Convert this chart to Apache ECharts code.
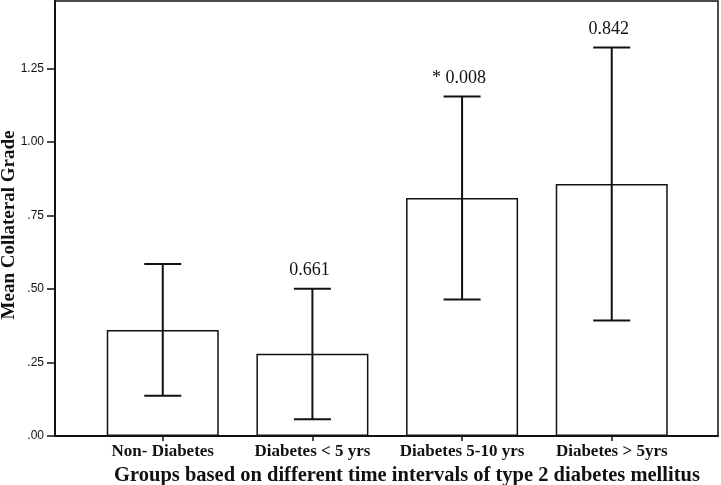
<!DOCTYPE html>
<html>
<head>
<meta charset="utf-8">
<script src="https://cdn.jsdelivr.net/npm/echarts@6/dist/echarts.min.js"></script>
<style>
html,body{margin:0;padding:0;background:#fff;}
#chart{width:721px;height:485px;}
</style>
</head>
<body>
<div id="chart"></div>
<script>
const categories = ['Non- Diabetes', 'Diabetes < 5 yrs', 'Diabetes 5-10 yrs', 'Diabetes > 5yrs'];
const means = [0.361, 0.280, 0.810, 0.857];
const ciLow = [0.137, 0.057, 0.464, 0.393];
const ciHigh = [0.585, 0.501, 1.155, 1.322];
const pLabels = ['', '0.661', '* 0.008', '0.842'];
const yTicks = [0, 0.25, 0.5, 0.75, 1.0, 1.25];
const yLabels = ['.00', '.25', '.50', '.75', '1.00', '1.25'];
const xTitle = 'Groups based on different time intervals of type 2 diabetes mellitus';
const yTitle = 'Mean Collateral Grade';

const INK = '#111';
const catIdx = categories.map((c, i) => i);

const chart = echarts.init(document.getElementById('chart'));
chart.setOption({
  animation: false,
  backgroundColor: '#fff',
  grid: {left: 55, right: 3, top: 1, bottom: 49, containLabel: false, outerBoundsMode: 'none',
         show: true, borderColor: INK, borderWidth: 1.5, backgroundColor: '#fff'},
  graphic: [{
    type: 'text', x: 407, y: 476,
    style: {text: xTitle, font: 'bold 20.5px "Liberation Serif"', fill: INK, align: 'center', verticalAlign: 'middle'}
  }, {
    type: 'text', x: 9, y: 225, rotation: Math.PI / 2,
    style: {text: yTitle, font: 'bold 19px "Liberation Serif"', fill: INK, align: 'center', verticalAlign: 'middle'}
  }],
  xAxis: {
    type: 'value',
    min: -0.72, max: categories.length - 1 + 0.71,
    splitLine: {show: false},
    axisLine: {show: true, onZero: false, lineStyle: {color: INK, width: 2}},
    axisTick: {show: true, length: 5, customValues: catIdx, lineStyle: {color: INK, width: 1.5}},
    axisLabel: {
      customValues: catIdx, margin: 7,
      formatter: v => categories[Math.round(v)] || '',
      color: INK, fontFamily: 'Liberation Serif', fontWeight: 'bold', fontSize: 17
    }
  },
  yAxis: {
    type: 'value', min: 0, max: 1.48,
    splitLine: {show: false},
    axisLine: {show: true, onZero: false, lineStyle: {color: INK, width: 2}},
    axisTick: {show: true, length: 8, customValues: yTicks, lineStyle: {color: INK, width: 1.5}},
    axisLabel: {
      customValues: yTicks, margin: 11,
      formatter: v => yLabels[yTicks.indexOf(v)] !== undefined ? yLabels[yTicks.indexOf(v)] : '',
      color: INK, fontFamily: 'Liberation Sans', fontSize: 12
    }
  },
  series: [{
    type: 'bar',
    data: means.map((m, i) => [i, m]),
    barWidth: 112,
    itemStyle: {color: '#fff', borderColor: INK, borderWidth: 1.5},
    z: 2
  }, {
    type: 'custom',
    data: catIdx.map(i => [i, ciLow[i], ciHigh[i]]),
    z: 3,
    renderItem: function (params, api) {
      const x = api.value(0);
      const lo = api.coord([x, api.value(1)]);
      const hi = api.coord([x, api.value(2)]);
      const hw = 18.5;
      const ls = {stroke: INK, lineWidth: 2};
      return {
        type: 'group',
        children: [
          {type: 'line', shape: {x1: lo[0], y1: lo[1], x2: hi[0], y2: hi[1]}, style: ls},
          {type: 'line', shape: {x1: lo[0] - hw, y1: lo[1], x2: lo[0] + hw, y2: lo[1]}, style: ls},
          {type: 'line', shape: {x1: hi[0] - hw, y1: hi[1], x2: hi[0] + hw, y2: hi[1]}, style: ls},
          {type: 'text', style: {
            text: pLabels[params.dataIndex], x: hi[0] - 3, y: hi[1] - 9,
            align: 'center', verticalAlign: 'bottom',
            font: '18px "Liberation Serif"', fill: INK
          }}
        ]
      };
    }
  }]
});
</script>
</body>
</html>
